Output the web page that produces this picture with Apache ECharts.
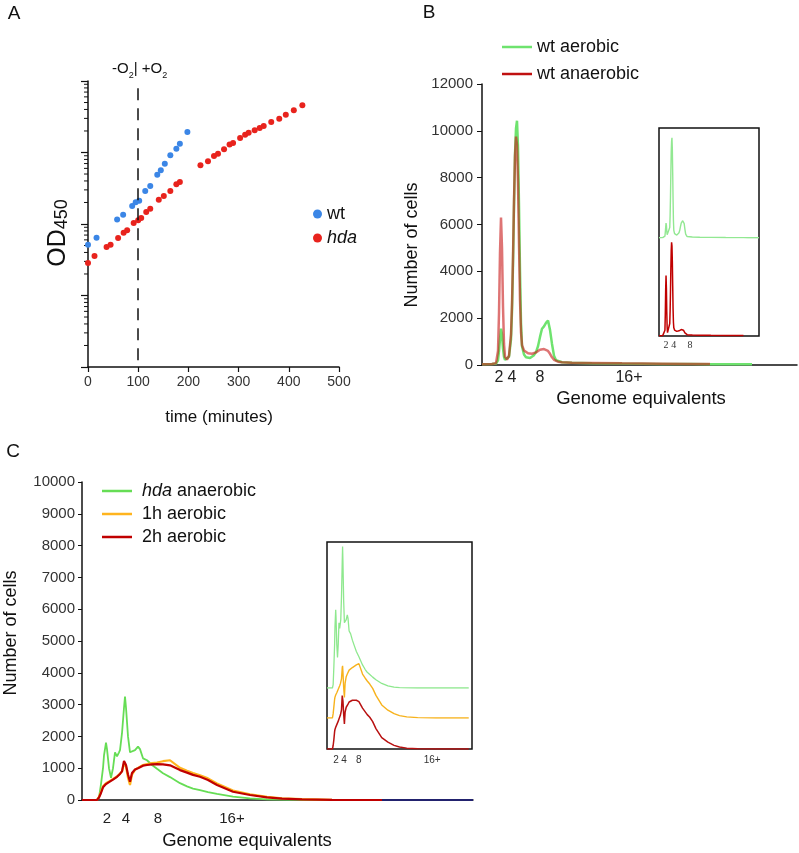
<!DOCTYPE html>
<html><head><meta charset="utf-8">
<script src="https://cdn.jsdelivr.net/npm/echarts@6/dist/echarts.min.js"></script>
<style>html,body{margin:0;padding:0;background:#fff}#c{width:799px;height:853px}</style>
</head><body><div id="c"></div>
<script>
// ---------- Panel A: growth curves (OD450, log scale) ----------
const aWtTime = [0,17,58,70,88,95,102,114,124,138,145,153,164,176,183,198];
const aWtOD = [0.0514,0.0644,0.116,0.135,0.179,0.201,0.212,0.290,0.340,0.490,0.563,0.698,0.913,1.13,1.33,1.94];
const aHdaTime = [0,13,37,45,60,71,78,91,100,106,116,124,141,151,164,176,183,224,239,251,259,271,282,289,303,313,320,332,342,350,365,381,394,410,427];
const aHdaOD = [0.0285,0.0357,0.0477,0.0514,0.0637,0.0757,0.0815,0.103,0.113,0.121,0.147,0.164,0.219,0.246,0.290,0.359,0.387,0.662,0.752,0.894,0.963,1.11,1.29,1.36,1.60,1.77,1.89,2.04,2.20,2.35,2.67,2.97,3.38,3.89,4.57];
const aSwitchTime = 100;
const aSwitchLineTop = 7.9;
const aXTicks = [0,100,200,300,400,500];
const aLogDecades = [0.001,0.01,0.1,1,10];
const aMinorMult = [2,3,4,5,6,7,8,9];

// ---------- Panel B: wt flow cytometry ----------
const bX = [0,10,14,16,17,18,19,20,21,22,23,25,27,29,30,31,32,33,34,35,36,37,38,39,40,42,44,46,48,50,52,54,56,58,60,62,64,66,68,70,72,74,76,80,90,110,140,180,210,228,240,270];
const bAerobic = [30,40,60,200,600,1100,1550,1300,700,350,220,180,350,1100,2300,4300,6800,9000,10100,10430,9300,6800,4000,1800,800,450,330,250,300,350,420,550,800,1200,1550,1650,1800,1900,1500,900,400,200,150,120,100,80,60,45,40,35,30,30];
const bAnaerobic = [30,40,80,600,2200,4800,6300,5000,2500,900,350,230,400,1300,2600,4600,7000,8900,9750,9400,7800,5200,2800,1400,850,620,550,500,480,480,500,540,600,650,670,680,660,600,480,330,220,170,140,120,100,90,70,55,45,40,null,null];
const bTickPos = [17,30,58,147];
const bTickLabels = ['2','4','8','16+'];
const bInsetTickPos = [19,40,84];
const bInsetTickLabels = ['2','4','8'];

// ---------- Panel C: hda flow cytometry ----------
const cX = [0,15,17,19,21,22,24,25,27,29,31,33,35,37,38,40,42,43,44,46,48,50,53,56,58,61,65,70,75,81,88,98,105,111,118,126,135,151,168,185,200,220,250,300,391];
const cHdaAnaerobic = [0,0,80,500,1000,1400,1800,1600,1000,700,1000,1500,1370,1500,1570,2100,2900,3250,2900,2000,1500,1470,1570,1680,1600,1310,1250,1100,980,840,720,530,430,360,310,250,190,105,50,20,10,4,0,0,0];
const c1hAerobic = [0,0,100,260,430,480,530,550,580,620,660,700,740,790,830,900,1150,1200,1050,700,470,800,950,1010,1050,1100,1130,1160,1180,1220,1250,1010,920,850,780,680,520,300,180,100,55,25,8,0,0];
const c2hAerobic = [0,0,80,220,400,450,500,520,560,600,640,690,730,780,820,900,1230,1260,1100,800,575,850,960,1000,1030,1080,1100,1120,1130,1120,1090,940,860,790,730,630,470,260,157,84,45,20,6,0,0];
const cTailX = [300,391];
const cTail = [0,0];
const cTickPos = [25,44,76,150];
const cTickLabels = ['2','4','8','16+'];
const cInsetTickPos = [25,47,88,290];
const cInsetTickLabels = ['2','4','8','16+'];

const FONT = '"Liberation Sans", Arial, sans-serif';
const SERIF = '"Liberation Serif", "Times New Roman", serif';
const pairs = (xs, ys) => xs.map((x, i) => [x, ys[i]]).filter(p => p[1] !== null && p[1] !== undefined);
const aMinorTicks = [];
aLogDecades.slice(0, -1).forEach(d => aMinorMult.forEach(m => aMinorTicks.push(d * m)));

const blackLine = {show: true, lineStyle: {color: '#111', width: 1.5}};
const hidden = {show: false};
const plain = v => String(v);

const chart = echarts.init(document.getElementById('c'), null, {renderer: 'canvas', width: 799, height: 853});

const option = {
  animation: false,
  backgroundColor: '#fff',
  textStyle: {fontFamily: FONT},
  grid: [
    {left: 88, top: 81, width: 251, height: 286},
    {left: 482, top: 84, width: 315, height: 281},
    {left: 659, top: 128, width: 100, height: 208, show: true, borderColor: '#111', borderWidth: 1.5},
    {left: 659, top: 128, width: 100, height: 110},
    {left: 82, top: 482, width: 391, height: 318},
    {left: 327, top: 542, width: 145, height: 207, show: true, borderColor: '#111', borderWidth: 1.5},
    {left: 327, top: 542, width: 145, height: 176},
    {left: 327, top: 542, width: 145, height: 146}
  ],
  xAxis: [
    {gridIndex: 0, type: 'value', min: 0, max: 500, interval: 100, axisLine: blackLine,
     axisTick: {show: true, length: 5, lineStyle: {color: '#111', width: 1.2}},
     axisLabel: {fontSize: 14, color: '#333', margin: 8, fontFamily: FONT, formatter: plain}, splitLine: hidden},
    {gridIndex: 1, type: 'value', min: 0, max: 315, axisLine: blackLine, axisTick: hidden,
     axisLabel: {customValues: bTickPos, formatter: v => bTickLabels[bTickPos.indexOf(v)], fontSize: 16, color: '#222', margin: 5, fontFamily: FONT},
     splitLine: hidden},
    {gridIndex: 2, type: 'value', min: 0, max: 270, axisLine: hidden, axisTick: hidden,
     axisLabel: {customValues: bInsetTickPos, formatter: v => bInsetTickLabels[bInsetTickPos.indexOf(v)], fontSize: 10, color: '#333', margin: 4, fontFamily: SERIF},
     splitLine: hidden},
    {gridIndex: 3, type: 'value', min: 0, max: 270, show: false, splitLine: hidden},
    {gridIndex: 4, type: 'value', min: 0, max: 391, axisLine: blackLine, axisTick: hidden,
     axisLabel: {customValues: cTickPos, formatter: v => cTickLabels[cTickPos.indexOf(v)], fontSize: 15, color: '#222', margin: 11, fontFamily: FONT},
     splitLine: hidden},
    {gridIndex: 5, type: 'value', min: 0, max: 400, axisLine: hidden, axisTick: hidden,
     axisLabel: {customValues: cInsetTickPos, formatter: v => cInsetTickLabels[cInsetTickPos.indexOf(v)], fontSize: 10, color: '#333', margin: 6, fontFamily: FONT},
     splitLine: hidden},
    {gridIndex: 6, type: 'value', min: 0, max: 400, show: false, splitLine: hidden},
    {gridIndex: 7, type: 'value', min: 0, max: 400, show: false, splitLine: hidden}
  ],
  yAxis: [
    {gridIndex: 0, type: 'log', logBase: 10, min: 0.001, max: 10, axisLine: blackLine,
     axisTick: {show: true, length: 7, lineStyle: {color: '#111', width: 1.2}},
     axisLabel: hidden, splitLine: hidden, minorTick: hidden},
    {gridIndex: 1, type: 'value', min: 0, max: 12000, interval: 2000, axisLine: blackLine,
     axisTick: {show: true, length: 5, lineStyle: {color: '#111'}},
     axisLabel: {fontSize: 15, color: '#333', margin: 9, fontFamily: FONT, formatter: plain}, splitLine: hidden},
    {gridIndex: 2, type: 'value', min: 0, max: 21667, show: false, splitLine: hidden},
    {gridIndex: 3, type: 'value', min: 0, max: 11458, show: false, splitLine: hidden},
    {gridIndex: 4, type: 'value', min: 0, max: 10000, interval: 1000, axisLine: blackLine,
     axisTick: {show: true, length: 4, lineStyle: {color: '#111'}},
     axisLabel: {fontSize: 15, color: '#333', margin: 7, fontFamily: FONT, formatter: plain}, splitLine: hidden},
    {gridIndex: 5, type: 'value', min: 0, max: 4759, show: false, splitLine: hidden},
    {gridIndex: 6, type: 'value', min: 0, max: 4046, show: false, splitLine: hidden},
    {gridIndex: 7, type: 'value', min: 0, max: 3356, show: false, splitLine: hidden}
  ],
  legend: [
    {data: ['wt', 'hda'], orient: 'vertical', left: 313, top: 205, padding: 0, icon: 'circle',
     itemWidth: 9, itemHeight: 9, itemGap: 6, selectedMode: false,
     textStyle: {fontSize: 18, color: '#111', fontFamily: FONT,
       rich: {i: {fontSize: 18, fontStyle: 'italic', color: '#111', fontFamily: FONT}}},
     formatter: n => n === 'hda' ? '{i|hda}' : n},
    {data: [{name: 'wt aerobic', itemStyle: {color: '#6ee36e', opacity: 1}},
            {name: 'wt anaerobic', itemStyle: {color: '#c01010', opacity: 1}}],
     orient: 'vertical', left: 502, top: 38, padding: 0, icon: 'rect', itemWidth: 30, itemHeight: 2.5,
     itemGap: 9, selectedMode: false, textStyle: {fontSize: 18, color: '#111', fontFamily: FONT}},
    {data: ['hda anaerobic', '1h aerobic', '2h aerobic'], orient: 'vertical', left: 102, top: 482, padding: 0,
     icon: 'rect', itemWidth: 30, itemHeight: 2.5, itemGap: 5, selectedMode: false,
     textStyle: {fontSize: 18, color: '#111', fontFamily: FONT, padding: [0, 0, 0, 5],
       rich: {i: {fontSize: 18, fontStyle: 'italic', color: '#111', fontFamily: FONT}}},
     formatter: n => n === 'hda anaerobic' ? '{i|hda} anaerobic' : n}
  ],
  series: [
    // Panel A
    {name: 'wt', type: 'scatter', xAxisIndex: 0, yAxisIndex: 0, symbolSize: 6,
     itemStyle: {color: '#3b86e6', opacity: 1}, data: pairs(aWtTime, aWtOD),
     markLine: {silent: true, symbol: 'none', label: {show: false},
       lineStyle: {color: '#111', type: [12, 8], width: 1.5},
       data: [[{coord: [aSwitchTime, aSwitchLineTop]}, {coord: [aSwitchTime, aLogDecades[0]]}]]}},
    {name: 'hda', type: 'scatter', xAxisIndex: 0, yAxisIndex: 0, symbolSize: 6,
     itemStyle: {color: '#e8231d', opacity: 1}, data: pairs(aHdaTime, aHdaOD)},
    {type: 'custom', xAxisIndex: 0, yAxisIndex: 0, silent: true, clip: false,
     data: aMinorTicks.map(v => [0, v]),
     renderItem: (params, api) => {
       const p = api.coord([0, api.value(1)]);
       return {type: 'line', shape: {x1: p[0] - 4, y1: p[1], x2: p[0], y2: p[1]},
               style: {stroke: '#111', lineWidth: 1}};
     }},
    // Panel B main
    {name: 'wt aerobic', type: 'line', xAxisIndex: 1, yAxisIndex: 1, showSymbol: false,
     lineStyle: {color: '#6ee36e', width: 2.5}, itemStyle: {color: '#6ee36e'}, data: pairs(bX, bAerobic)},
    {name: 'wt anaerobic', type: 'line', xAxisIndex: 1, yAxisIndex: 1, showSymbol: false,
     lineStyle: {color: '#c81818', width: 2.5, opacity: 0.6}, itemStyle: {color: '#c01010'}, data: pairs(bX, bAnaerobic)},
    // Panel B inset
    {name: 'inset wt anaerobic', type: 'line', xAxisIndex: 2, yAxisIndex: 2, showSymbol: false,
     lineStyle: {color: '#c00000', width: 1.5}, data: pairs(bX, bAnaerobic)},
    {name: 'inset wt aerobic', type: 'line', xAxisIndex: 3, yAxisIndex: 3, showSymbol: false,
     lineStyle: {color: '#92e892', width: 1.4}, data: pairs(bX, bAerobic)},
    // Panel C main
    {name: 'hda anaerobic', type: 'line', xAxisIndex: 4, yAxisIndex: 4, showSymbol: false,
     lineStyle: {color: '#66dd55', width: 1.8}, itemStyle: {color: '#66dd55'}, data: pairs(cX, cHdaAnaerobic)},
    {name: '1h aerobic', type: 'line', xAxisIndex: 4, yAxisIndex: 4, showSymbol: false,
     lineStyle: {color: '#ffb41e', width: 2.2}, itemStyle: {color: '#ffb41e'}, data: pairs(cX, c1hAerobic)},
    {name: '2h aerobic', type: 'line', xAxisIndex: 4, yAxisIndex: 4, showSymbol: false,
     lineStyle: {color: '#c00000', width: 2.2}, itemStyle: {color: '#c00000'}, data: pairs(cX, c2hAerobic)},
    {name: 'tail', type: 'line', xAxisIndex: 4, yAxisIndex: 4, showSymbol: false,
     lineStyle: {color: '#22226e', width: 2}, data: pairs(cTailX, cTail)},
    // Panel C inset
    {name: 'inset 2h', type: 'line', xAxisIndex: 5, yAxisIndex: 5, showSymbol: false,
     lineStyle: {color: '#b81010', width: 1.5}, data: pairs(cX, c2hAerobic)},
    {name: 'inset 1h', type: 'line', xAxisIndex: 6, yAxisIndex: 6, showSymbol: false,
     lineStyle: {color: '#f7b21c', width: 1.4}, data: pairs(cX, c1hAerobic)},
    {name: 'inset hda', type: 'line', xAxisIndex: 7, yAxisIndex: 7, showSymbol: false,
     lineStyle: {color: '#8ee88e', width: 1.3}, data: pairs(cX, cHdaAnaerobic)}
  ],
  graphic: [
    {type: 'text', x: 14, y: 14, style: {text: 'A', fontSize: 19, fontFamily: FONT, fill: '#111', align: 'center', verticalAlign: 'middle'}},
    {type: 'text', x: 429, y: 13, style: {text: 'B', fontSize: 19, fontFamily: FONT, fill: '#111', align: 'center', verticalAlign: 'middle'}},
    {type: 'text', x: 13, y: 452, style: {text: 'C', fontSize: 19, fontFamily: FONT, fill: '#111', align: 'center', verticalAlign: 'middle'}},
    {type: 'text', x: 112, y: 69, style: {text: '{b|-O}{s|2}{b|| +O}{s|2}', fontFamily: FONT, fill: '#111', verticalAlign: 'middle',
      rich: {b: {fontSize: 15, lineHeight: 22, verticalAlign: 'middle', fontFamily: FONT, fill: '#111'},
             s: {fontSize: 9, lineHeight: 22, verticalAlign: 'bottom', fontFamily: FONT, fill: '#111'}}}},
    {type: 'text', x: 56, y: 233, rotation: Math.PI / 2, style: {text: '{b|OD}{s|450}', fontFamily: FONT, fill: '#111', align: 'center', verticalAlign: 'middle',
      rich: {b: {fontSize: 25, lineHeight: 30, verticalAlign: 'bottom', fontFamily: FONT, fill: '#111'},
             s: {fontSize: 18, lineHeight: 30, verticalAlign: 'bottom', fontFamily: FONT, fill: '#111'}}}},
    {type: 'text', x: 219, y: 417, style: {text: 'time (minutes)', fontSize: 17, fontFamily: FONT, fill: '#111', align: 'center', verticalAlign: 'middle'}},
    {type: 'text', x: 412, y: 245, rotation: Math.PI / 2, style: {text: 'Number of cells', fontSize: 18, fontFamily: FONT, fill: '#111', align: 'center', verticalAlign: 'middle'}},
    {type: 'text', x: 641, y: 399, style: {text: 'Genome equivalents', fontSize: 18.5, fontFamily: FONT, fill: '#111', align: 'center', verticalAlign: 'middle'}},
    {type: 'text', x: 11, y: 633, rotation: Math.PI / 2, style: {text: 'Number of cells', fontSize: 18, fontFamily: FONT, fill: '#111', align: 'center', verticalAlign: 'middle'}},
    {type: 'text', x: 247, y: 841, style: {text: 'Genome equivalents', fontSize: 18.5, fontFamily: FONT, fill: '#111', align: 'center', verticalAlign: 'middle'}}
  ]
};
chart.setOption(option);
</script>
</body></html>
